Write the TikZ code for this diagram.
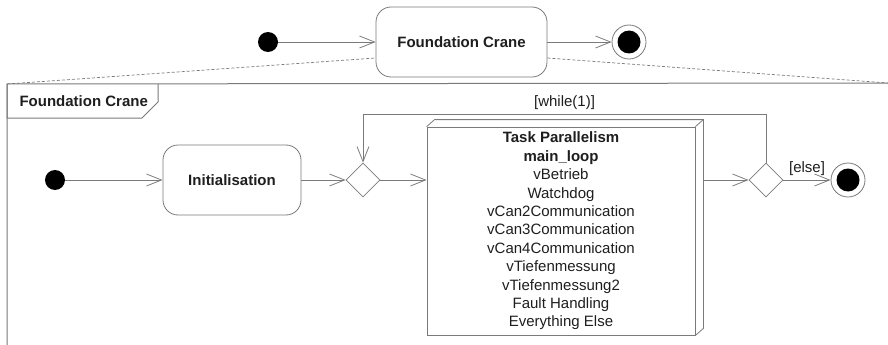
\documentclass[tikz,border=0pt]{standalone}
\usepackage{fontspec}
\setmainfont{Liberation Sans}
\usepackage{tikz}
\usetikzlibrary{shapes.geometric,arrows.meta,positioning,calc}
\definecolor{umlline}{HTML}{7A7A7A}
\definecolor{umltext}{HTML}{1E1E1E}

\begin{document}
\begin{tikzpicture}[x=1pt,y=-1pt,
  every node/.style={font=\fontsize{15}{18.4}\selectfont,text=umltext},
  action/.style={rectangle,rounded corners=15pt,draw=umlline,line width=0.8pt,
    minimum width=138pt,minimum height=70pt,inner sep=0pt,
    font=\fontsize{15}{18.4}\selectfont\bfseries},
  startnode/.style={circle,fill=black,minimum size=20pt,inner sep=0pt},
  stopnode/.style={circle,draw=umlline,line width=0.8pt,minimum size=34pt,inner sep=0pt,
    path picture={\fill[black] (path picture bounding box.center) circle (11.5pt);}},
  merge/.style={diamond,draw=umlline,line width=0.8pt,minimum width=34pt,
    minimum height=34pt,inner sep=0pt},
  taskbox/.style={rectangle,draw=umlline,line width=0.8pt,minimum width=268pt,
    minimum height=208pt,inner sep=0pt,align=center},
  edge/.style={umlline,line width=0.8pt},
  arr/.style={-{Straight Barb[length=15pt,width=12pt]},umlline,line width=0.8pt},
  frame/.style={umlline,line width=1pt},
  dashline/.style={umlline,line width=0.7pt,dash pattern=on 3pt off 2pt}]
  \useasboundingbox (0,0) rectangle (888,345);
  % top level
  \node[startnode] (topstart) at (268,42) {};
  \node[action,minimum width=171pt] (crane) at (461.5,42) {Foundation Crane};
  \node[stopnode] (topend) at (629,42) {};
  \draw[arr] (topstart)--(crane); \draw[arr] (crane)--(topend);
  % frame
  \coordinate (fnw) at (7,84);
  \coordinate (fne) at (888,83);
  \draw[frame] (7,345)--(fnw)--(fne);
  \draw[frame] (fnw)--(7,118)--(142,118)--(158,102)--(158,84);
  \node[anchor=west,font=\fontsize{15}{18.4}\selectfont\bfseries] (framename) at (16,101) {Foundation Crane};
  \draw[dashline] (fnw)--($(crane.west)+(0,16)$);
  \draw[dashline] ($(crane.east)+(0,16)$)--(fne);
  % inner activity
  \node[startnode] (start) at (55,180) {};
  \node[action] (init) at (232,180) {Initialisation};
  \node[merge] (loopin) at (363,180) {};
  \node[taskbox] (tasks) at (561,231) {\textbf{Task Parallelism}\\\textbf{main\_loop}\\vBetrieb\\Watchdog\\
    vCan2Communication\\vCan3Communication\\vCan4Communication\\vTiefenmessung\\
    vTiefenmessung2\\Fault Handling\\Everything Else};
  \draw[edge] (tasks.north west)--++(8,-7)--($(tasks.north east)+(8,-7)$)
    --($(tasks.south east)+(8,-7)$)--(tasks.south east);
  \draw[edge] (tasks.north east)--++(8,-7);
  \node[merge] (loopout) at (766,180) {};
  \node[stopnode] (stop) at (848,180) {};
  \coordinate (tasksout) at ($(tasks.east |- loopout)+(8,0)$);
  \draw[arr] (start)--(init); \draw[arr] (init)--(loopin);
  \draw[arr] (loopin)--(loopin -| tasks.west); \draw[arr] (tasksout)--(loopout);
  \draw[arr] (loopout)--(stop) node[midway,above=1pt] {[else]};
  \draw[arr] (loopout.north) |- ($(loopin.north)+(0,-48)$) node[pos=0.75,above=1pt] {[while(1)]}
    --(loopin.north);
\end{tikzpicture}
\end{document}
